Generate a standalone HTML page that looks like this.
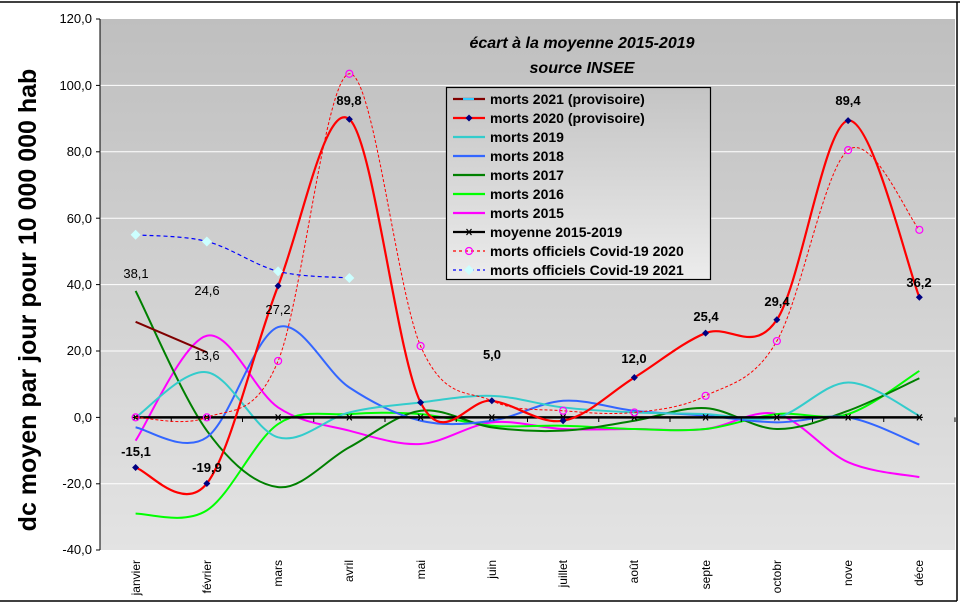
<!DOCTYPE html>
<html><head><meta charset="utf-8">
<style>
html,body{margin:0;padding:0;background:#fff;}
svg{display:block;font-family:"Liberation Sans",sans-serif;}
</style></head>
<body>
<svg id="c" width="960" height="605" viewBox="0 0 960 605" xmlns="http://www.w3.org/2000/svg">
<defs>
<linearGradient id="bg" x1="0" y1="0" x2="0" y2="1">
<stop offset="0" stop-color="#bfbfbf"/><stop offset="1" stop-color="#e3e3e3"/>
</linearGradient>
<linearGradient id="lg" x1="0" y1="0" x2="0" y2="1">
<stop offset="0" stop-color="#c4c4c4"/><stop offset="1" stop-color="#ececec"/>
</linearGradient>
</defs>
<line x1="0" y1="2" x2="960" y2="2" stroke="#000" stroke-width="1.5"/>
<line x1="957" y1="2" x2="957" y2="601" stroke="#000" stroke-width="1.5"/>
<line x1="0" y1="601" x2="957" y2="601" stroke="#000" stroke-width="1.5"/>
<rect x="100" y="19" width="855" height="531" fill="url(#bg)"/>
<g stroke="#fff" stroke-width="1">
<line x1="100" y1="85.4" x2="955" y2="85.4"/><line x1="100" y1="151.8" x2="955" y2="151.8"/>
<line x1="100" y1="218.2" x2="955" y2="218.2"/><line x1="100" y1="284.6" x2="955" y2="284.6"/>
<line x1="100" y1="351" x2="955" y2="351"/><line x1="100" y1="483.8" x2="955" y2="483.8"/>
</g>
<line x1="100" y1="19" x2="100" y2="550" stroke="#000"/>
<g stroke="#000">
<line x1="96" y1="19" x2="100" y2="19"/><line x1="96" y1="85.4" x2="100" y2="85.4"/><line x1="96" y1="151.8" x2="100" y2="151.8"/>
<line x1="96" y1="218.2" x2="100" y2="218.2"/><line x1="96" y1="284.6" x2="100" y2="284.6"/><line x1="96" y1="351" x2="100" y2="351"/>
<line x1="96" y1="417.4" x2="100" y2="417.4"/><line x1="96" y1="483.8" x2="100" y2="483.8"/><line x1="96" y1="550" x2="100" y2="550"/>
</g>
<g font-size="13" text-anchor="end" fill="#000">
<text x="92" y="23">120,0</text><text x="92" y="90">100,0</text><text x="92" y="156">80,0</text>
<text x="92" y="223">60,0</text><text x="92" y="289">40,0</text><text x="92" y="355">20,0</text>
<text x="92" y="422">0,0</text><text x="92" y="488">-20,0</text><text x="92" y="554">-40,0</text>
</g>
<text transform="translate(36,300) rotate(-90)" text-anchor="middle" font-size="25" font-weight="bold">dc moyen par jour pour 10 000 000 hab</text>
<g font-size="12" text-anchor="end">
<text transform="translate(140,560) rotate(-90)">janvier</text>
<text transform="translate(211,560) rotate(-90)">février</text>
<text transform="translate(282,560) rotate(-90)">mars</text>
<text transform="translate(353,560) rotate(-90)">avril</text>
<text transform="translate(425,560) rotate(-90)">mai</text>
<text transform="translate(496,560) rotate(-90)">juin</text>
<text transform="translate(567,560) rotate(-90)">juillet</text>
<text transform="translate(638,560) rotate(-90)">août</text>
<text transform="translate(710,560) rotate(-90)">septe</text>
<text transform="translate(781,560) rotate(-90)">octobr</text>
<text transform="translate(852,560) rotate(-90)">nove</text>
<text transform="translate(923,560) rotate(-90)">déce</text>
</g>
<g id="series"></g>
<g font-size="16" font-weight="bold" font-style="italic" text-anchor="middle">
<text x="582" y="48">écart à la moyenne 2015-2019</text>
<text x="582" y="73">source INSEE</text>
</g>
<g font-size="13" font-weight="bold" text-anchor="middle">
<text x="136" y="456">-15,1</text><text x="207" y="472">-19,9</text><text x="349" y="105">89,8</text>
<text x="492" y="359">5,0</text><text x="634" y="363">12,0</text><text x="706" y="321">25,4</text>
<text x="777" y="306">29,4</text><text x="848" y="105">89,4</text><text x="919" y="287">36,2</text>
</g>
<g font-size="13" text-anchor="middle">
<text x="136" y="278">38,1</text><text x="207" y="295">24,6</text><text x="207" y="360">13,6</text><text x="278" y="314">27,2</text>
</g>
<rect x="446.5" y="87.5" width="264" height="192" fill="url(#lg)" stroke="#000" stroke-width="1.2"/>
<g id="leg" font-size="14" font-weight="bold">
<text x="490" y="104">morts 2021 (provisoire)</text>
<text x="490" y="123">morts 2020 (provisoire)</text>
<text x="490" y="142">morts 2019</text>
<text x="490" y="161">morts 2018</text>
<text x="490" y="180">morts 2017</text>
<text x="490" y="199">morts 2016</text>
<text x="490" y="218">morts 2015</text>
<text x="490" y="237">moyenne 2015-2019</text>
<text x="490" y="256">morts officiels Covid-19 2020</text>
<text x="490" y="275">morts officiels Covid-19 2021</text>
</g>
</svg>
<script>
var NS="http://www.w3.org/2000/svg";
function X(i){return 135.6+71.25*i;}
function Y(v){return 417.4-v*3.32;}
function el(t,a,p){var e=document.createElementNS(NS,t);for(var k in a)e.setAttribute(k,a[k]);(p||document.getElementById('series')).appendChild(e);return e;}
function smooth(vals){var p=vals.map(function(v,i){return [X(i),Y(v)];});var d="M"+p[0][0]+","+p[0][1];
for(var i=0;i<p.length-1;i++){var p0=p[i-1]||p[i],p1=p[i],p2=p[i+1],p3=p[i+2]||p2;
var c1=[p1[0]+(p2[0]-p0[0])/6,p1[1]+(p2[1]-p0[1])/6],c2=[p2[0]-(p3[0]-p1[0])/6,p2[1]-(p3[1]-p1[1])/6];
d+=" C"+c1+" "+c2+" "+p2;}return d;}
function line(vals,col,w,dash){var a={d:smooth(vals),fill:"none",stroke:col,"stroke-width":w};if(dash)a["stroke-dasharray"]=dash;el("path",a);}
function diamond(x,y,r,col,p){el("path",{d:"M"+x+","+(y-r)+" L"+(x+r)+","+y+" L"+x+","+(y+r)+" L"+(x-r)+","+y+"Z",fill:col},p);}
function star(x,y,p){el("path",{d:"M"+(x-3.5)+","+y+"H"+(x+3.5)+"M"+(x-2.5)+","+(y-3)+"L"+(x+2.5)+","+(y+3)+"M"+(x+2.5)+","+(y-3)+"L"+(x-2.5)+","+(y+3),stroke:"#000","stroke-width":1.2},p);}
function circ(x,y,p){el("circle",{cx:x,cy:y,r:3.5,fill:"none",stroke:"#ff00ff","stroke-width":1.2},p);}
line([-7,24.6,3,-4,-8,-1.5,-3.5,-3.5,-3.5,1,-13.5,-18],"#ff00ff",2);
line([-29,-28,-2,1,1,-2.5,-2.5,-3.5,-3.5,1,1,14],"#00ff00",2);
line([38.1,-4,-21,-9,2,-3,-4,-1,2.8,-3.5,2,11.8],"#008000",2);
line([-3,-6,27.2,9,-1,-1,5,2,0.5,-1.5,0,-8.2],"#3366ff",2);
line([0,13.6,-6,1.5,4.5,6.5,3,1.5,1,0,10.5,0.5],"#33cccc",2);
line([0,0,0,0,0,0,0,0,0,0,0,0],"#000",2.5);
for(var i=0;i<=12;i++){var x=100+71.25*i;el("line",{x1:x,y1:417.4,x2:x,y2:422,stroke:"#000"});}
for(var i=0;i<12;i++)star(X(i),Y(0));
line([0,0,17,103.5,21.5,5,2,1.5,6.5,23,80.5,56.5],"#ff0000",1,"3,2");
[0,0,17,103.5,21.5,null,2,1.5,6.5,23,80.5,56.5].forEach(function(v,i){if(v!==null)circ(X(i),Y(v));});
el("path",{d:smooth([28.8,19.6]),fill:"none",stroke:"#800000","stroke-width":2});
line([-15.1,-19.9,39.6,89.8,4.5,5.0,-1,12.0,25.4,29.4,89.4,36.2],"#ff0000",2.2);
[-15.1,-19.9,39.6,89.8,4.5,5.0,-1,12.0,25.4,29.4,89.4,36.2].forEach(function(v,i){diamond(X(i),Y(v),3.5,"#000080");});
line([55,53,44,42],"#0000ff",1.2,"4,3");
[55,53,44,42].forEach(function(v,i){diamond(X(i),Y(v),5,"#ccffff");});
var L=document.getElementById('leg');
var cols=["#800000","#ff0000","#33cccc","#3366ff","#008000","#00ff00","#ff00ff","#000","#ff0000","#0000ff"];
for(var j=0;j<10;j++){var y=99+19*j;var a={x1:453,y1:y,x2:485,y2:y,stroke:cols[j],"stroke-width":(j>=8?1.2:2.2)};if(j>=8)a["stroke-dasharray"]="3,3";el("line",a,L);}
el("line",{x1:463,y1:99,x2:474,y2:99,stroke:"#33ccff","stroke-width":2.2},L);
diamond(469,118,3.5,"#000080",L);star(469,232,L);circ(469,251,L);diamond(469,270,5,"#ccffff",L);
</script>
</body></html>
